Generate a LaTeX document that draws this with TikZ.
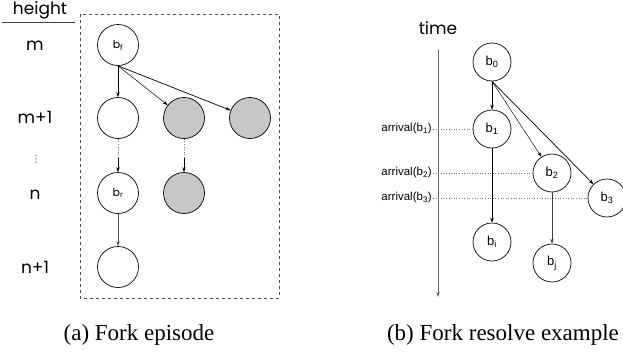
\documentclass[tikz,border=0pt]{standalone}
\usepackage{fontspec}
\setmainfont{Liberation Serif}
\newfontfamily\popfont{Poppins}
\newfontfamily\arialfont{Liberation Sans}
\newfontfamily\djfont{DejaVu Sans}
\usetikzlibrary{arrows.meta}

\begin{document}
\begin{tikzpicture}[x=1pt,y=-1pt,
	blk/.style={circle,draw,line width=0.7pt,minimum size=41pt,inner sep=0pt,
		font=\popfont\fontsize{11}{11}\selectfont},
	grayblk/.style={blk,fill=black!22},
	rblk/.style={blk,minimum size=38pt,font=\arialfont\fontsize{13}{13}\selectfont},
	lbl/.style={font=\popfont\fontsize{17}{17}\selectfont},
	arrlbl/.style={anchor=east,inner sep=1pt,font=\arialfont\fontsize{11.5}{11.5}\selectfont},
	arr/.style={-{Stealth[length=5pt,width=3.5pt]},line width=0.7pt},
	dots/.style={dotted,line width=0.6pt,black!55},
	captext/.style={font=\fontsize{23}{23}\selectfont}]
	
	\useasboundingbox (0,0) rectangle (623,351);
	
	%%%%% (a) fork episode %%%%%
	
	\node[lbl] (hd) at (40,10) {height};
	\draw[line width=0.8pt,black!75] (2,22) -- (75,22);
	\draw[dashed,line width=0.6pt,black!70] (80,14) rectangle (279,298);
	
	\node[lbl] (hm) at (35,46) {m};
	\node[lbl] (hm1) at (35,117) {m+1};
	\node[font=\djfont\fontsize{10}{10}\selectfont,black!65,inner sep=0pt] (hdots) at (36,159) {⋮};
	\node[lbl] (hn) at (35,195) {n};
	\node[lbl] (hn1) at (35,267) {n+1};
	
	\node[blk] (bf) at (118,45) {b\textsubscript{f}};
	\node[blk] (c1) at (118,118) {};
	\node[grayblk] (g1) at (184,118) {};
	\node[grayblk] (g2) at (250,118) {};
	\node[blk] (br) at (118,193) {b\textsubscript{r}};
	\node[grayblk] (g3) at (184,193) {};
	\node[blk] (c2) at (118,267) {};
	
	\draw[arr] (bf.south) -- (c1.north);
	\draw[arr,line width=0.5pt] (bf.south) -- (g1);
	\draw[arr] (bf.south) -- (g2);
	
	\coordinate (d1) at (118,158);
	\coordinate (d2) at (184,158);
	\draw[dots] (c1.south) -- (d1);
	\draw[arr] (d1) -- (br.north);
	\draw[dots] (g1.south) -- (d2);
	\draw[arr] (d2) -- (g3.north);
	\draw[arr,black!70] (br.south) -- (c2.north);
	
	\node[captext] (capa) at (139,335) {(a) Fork episode};
	
	%%%%% (b) fork resolve %%%%%
	
	\node[lbl] (time) at (438,28) {time};
	\coordinate (ttop) at (438,50);
	\coordinate (tbot) at (438,297);
	\draw[arr,black!60,line width=0.9pt] (ttop) -- (tbot);
	
	\node[rblk] (b0) at (492,62) {b\textsubscript{0}};
	\node[rblk] (b1) at (492,129) {b\textsubscript{1}};
	\node[rblk] (b2) at (552,173) {b\textsubscript{2}};
	\node[rblk] (b3) at (607,198) {b\textsubscript{3}};
	\node[rblk] (bi) at (492,242) {b\textsubscript{i}};
	\node[rblk] (bj) at (552,263) {b\textsubscript{j}};
	
	\node[arrlbl] (a1) at (433,129) {arrival(b\textsubscript{1})};
	\node[arrlbl] (a2) at (433,173) {arrival(b\textsubscript{2})};
	\node[arrlbl] (a3) at (433,198) {arrival(b\textsubscript{3})};
	\draw[dots] (a1.east) -- (b1.west);
	\draw[dots] (a2.east) -- (b2.west);
	\draw[dots] (a3.east) -- (b3.west);
	
	\draw[arr] (b0.south) -- (b1.north);
	\draw[arr,line width=0.45pt] (b0.south) -- (b2);
	\draw[arr] (b0.south) -- (b3);
	\draw[arr] (b1.south) -- (bi.north);
	\draw[arr,black!75] (b2.south) -- (bj.north);
	
	\node[captext] (capb) at (503,335) {(b) Fork resolve example};
	
\end{tikzpicture}
\end{document}
